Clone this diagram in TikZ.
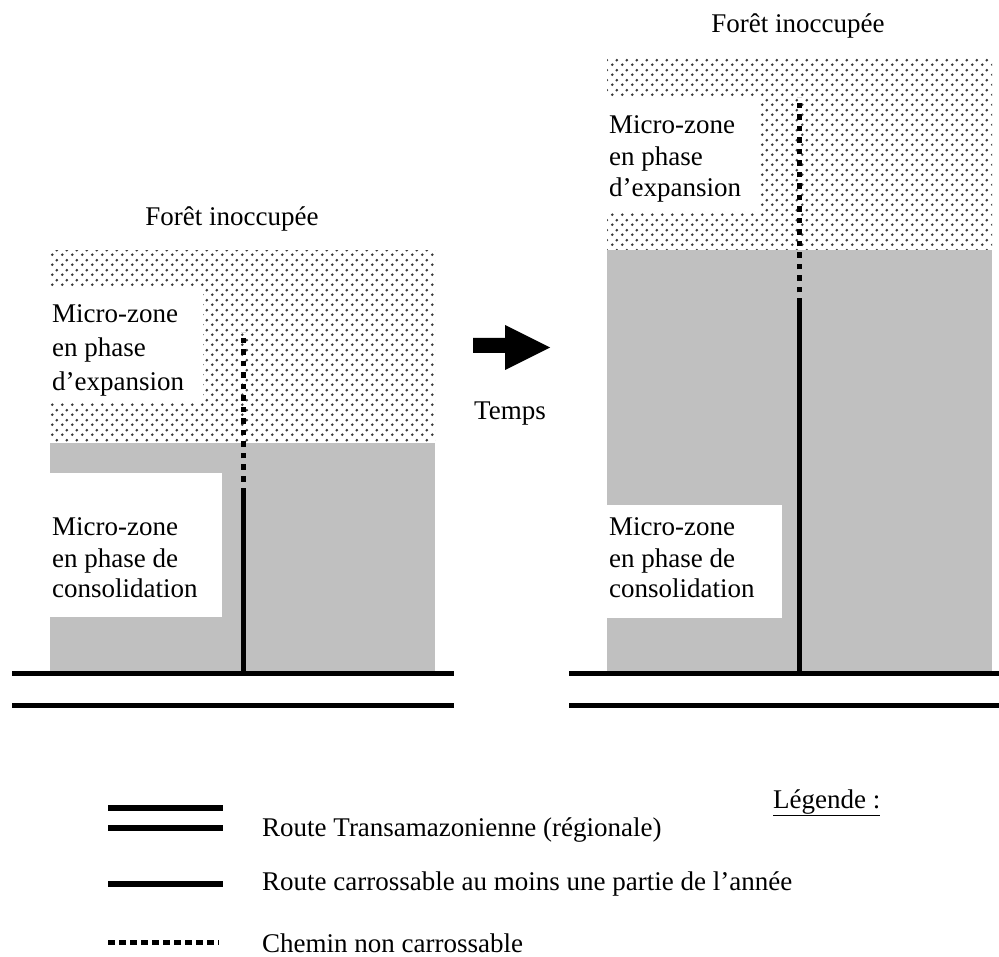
\documentclass[tikz,border=0pt]{standalone}
\usepackage{fontspec}
\setmainfont{Liberation Serif}
\usetikzlibrary{patterns.meta}
\tikzdeclarepattern{name=fdots, type=uncolored,
  bounding box={(0pt,0pt) and (10pt,10pt)}, tile size={(10pt,10pt)},
  code={\fill (2.5pt,2.5pt) circle (1.6pt); \fill (7.5pt,7.5pt) circle (1.6pt);}}
\definecolor{zgray}{RGB}{192,192,192}
\definecolor{dotc}{RGB}{55,55,55}
\begin{document}
\begin{tikzpicture}[x=1pt,y=-1pt,
  font=\fontsize{27}{35}\selectfont,
  road/.style={line width=5.5pt},
  track/.style={line width=5pt, dash pattern=on 5.5pt off 6pt},
  legtrack/.style={line width=5pt, dash pattern=on 7pt off 4pt},
  lbl/.style={anchor=base west, inner sep=0pt},
  ttl/.style={anchor=base, inner sep=0pt},
  expzone/.style={pattern={fdots}, pattern color=dotc},
  conzone/.style={fill=zgray},
  txtbox/.style={fill=white}]
\useasboundingbox (0,0) rectangle (999,957);
% ---------- left panel ----------
\fill[expzone] (50,251) rectangle (435,443);
\fill[conzone] (50,443) rectangle (435,671);
\fill[txtbox] (50,288) rectangle (203,403);
\fill[txtbox] (50,473) rectangle (222,617);
\node[ttl] (ltitle) at (232,226) {Forêt inoccupée};
\node[lbl] (le1) at (52,323) {Micro-zone};
\node[lbl] (le2) at (52,357) {en phase};
\node[lbl] (le3) at (52,391) {d’expansion};
\node[lbl] (lc1) at (52,535) {Micro-zone};
\node[lbl] (lc2) at (52,567) {en phase de};
\node[lbl] (lc3) at (52,597) {consolidation};
\coordinate (lrA1) at (12,673.5);
\coordinate (lrA2) at (454,673.5);
\coordinate (lrB1) at (12,705.5);
\coordinate (lrB2) at (454,705.5);
\coordinate (lvBase) at (243,671);
\coordinate (lvMid) at (243,493);
\coordinate (lvTop) at (243,332);
\draw[road] (lrA1) -- (lrA2);
\draw[road] (lrB1) -- (lrB2);
\draw[line width=5pt] (lvBase) -- (lvMid);
\draw[track] (lvMid) -- (lvTop);
% ---------- arrow ----------
\fill (473,338) -- (505,338) -- (505,325) -- (550,347.5) -- (505,370) -- (505,353) -- (473,353) -- cycle;
\node[ttl] (temps) at (510,420) {Temps};
% ---------- right panel ----------
\fill[expzone] (607,58) rectangle (992,250);
\fill[conzone] (607,250) rectangle (992,671);
\fill[txtbox] (607,97) rectangle (760,213);
\fill[txtbox] (607,505) rectangle (782,618);
\node[ttl] (rtitle) at (798,33) {Forêt inoccupée};
\node[lbl] (re1) at (609,134) {Micro-zone};
\node[lbl] (re2) at (609,166) {en phase};
\node[lbl] (re3) at (609,197) {d’expansion};
\node[lbl] (rc1) at (609,535) {Micro-zone};
\node[lbl] (rc2) at (609,567) {en phase de};
\node[lbl] (rc3) at (609,597) {consolidation};
\coordinate (rrA1) at (569,673.5);
\coordinate (rrA2) at (999,673.5);
\coordinate (rrB1) at (569,705.5);
\coordinate (rrB2) at (999,705.5);
\coordinate (rvBase) at (799,671);
\coordinate (rvMid) at (799,304);
\coordinate (rvTop) at (799,97);
\draw[road] (rrA1) -- (rrA2);
\draw[road] (rrB1) -- (rrB2);
\draw[line width=5pt] (rvBase) -- (rvMid);
\draw[track] (rvMid) -- (rvTop);
% ---------- legend ----------
\node[lbl] (leg) at (773,808) {\underline{Légende :}};
\coordinate (g1a) at (108,808); \coordinate (g1b) at (223,808);
\coordinate (g2a) at (108,828); \coordinate (g2b) at (223,828);
\coordinate (g3a) at (108,884); \coordinate (g3b) at (223,884);
\coordinate (g4a) at (108,942); \coordinate (g4b) at (219,942);
\draw[road] (g1a) -- (g1b);
\draw[road] (g2a) -- (g2b);
\draw[road] (g3a) -- (g3b);
\draw[legtrack] (g4a) -- (g4b);
\node[lbl] (t1) at (262,836) {Route Transamazonienne (régionale)};
\node[lbl] (t2) at (262,890) {Route carrossable au moins une partie de l’année};
\node[lbl] (t3) at (262,952) {Chemin non carrossable};
\end{tikzpicture}
\end{document}
